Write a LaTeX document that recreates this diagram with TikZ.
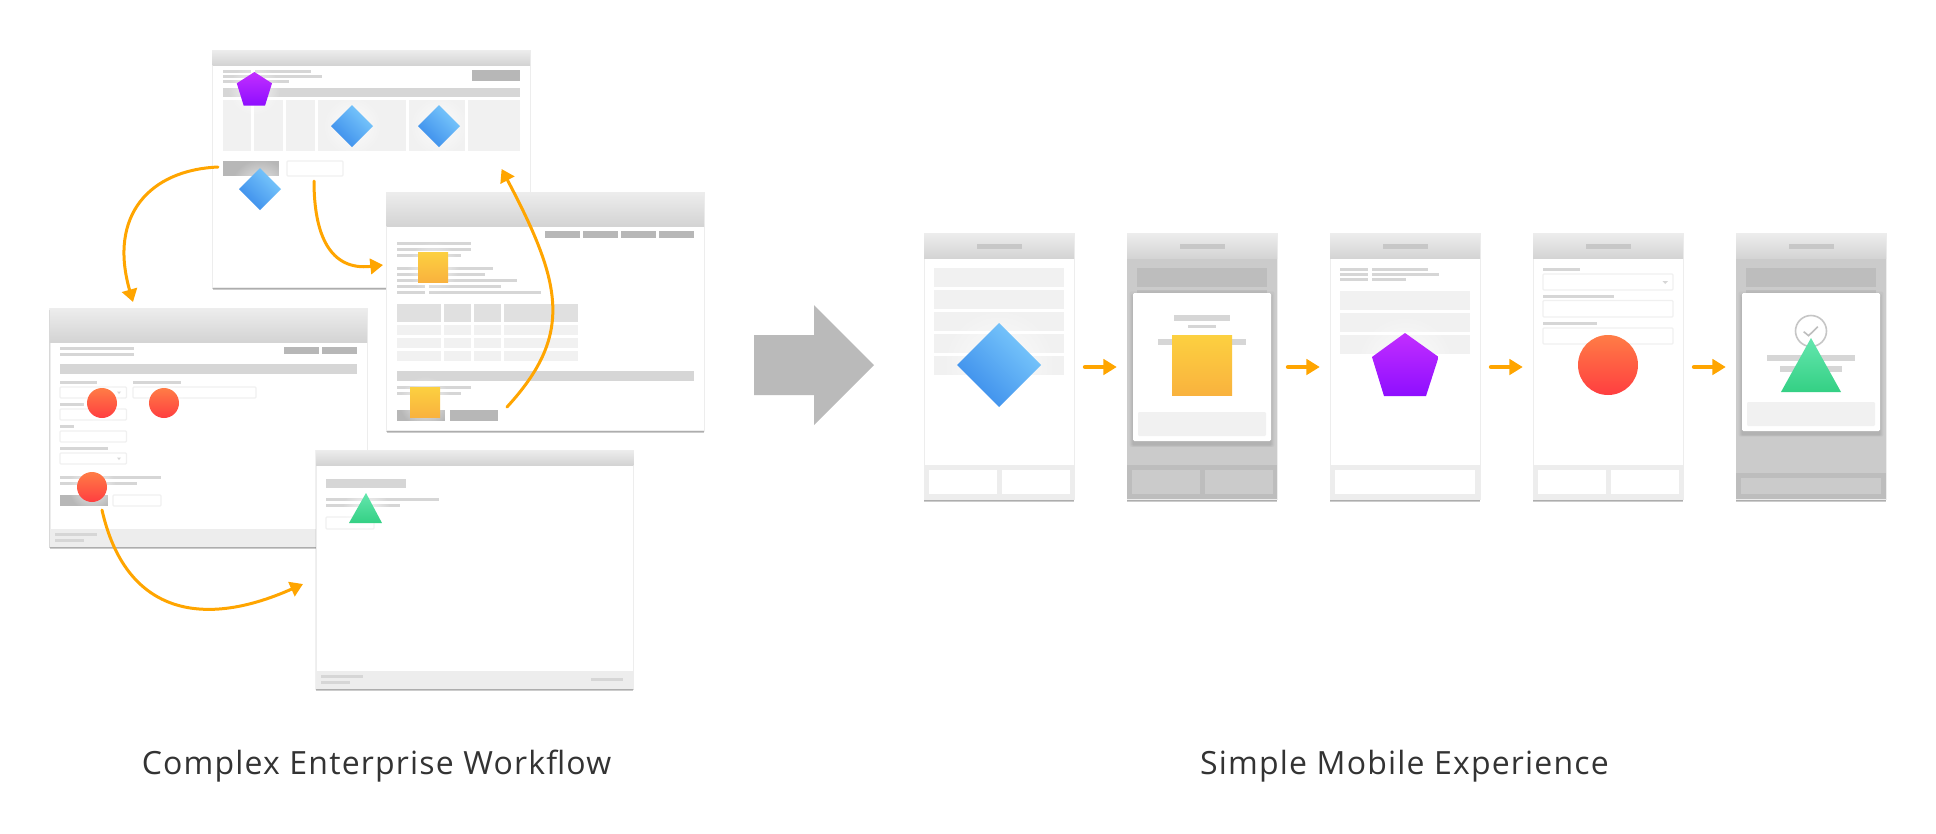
\documentclass[tikz,border=0pt]{standalone}
\usepackage{fontspec}
\setmainfont{Open Sans}
\usetikzlibrary{arrows.meta,shadows,fadings}
\definecolor{flow}{RGB}{255,165,0}
\definecolor{rule}{RGB}{214,214,214}
\definecolor{cell}{RGB}{241,241,241}
\definecolor{btn}{RGB}{183,183,183}
\definecolor{dim}{RGB}{203,203,203}
\definecolor{dimrow}{RGB}{189,189,189}
\tikzfading[name=halofade,inner color=transparent!0,outer color=transparent!100]
\tikzset{every picture/.style={line width=0.75pt}}
\tikzset{
	softshadow/.style={
		drop shadow={shadow xshift=0pt,shadow yshift=-0.6pt,shadow scale=1.006,fill=black,opacity=0.06},
		drop shadow={shadow xshift=0pt,shadow yshift=-1.3pt,shadow scale=1.002,fill=black,opacity=0.1},
		drop shadow={shadow xshift=0pt,shadow yshift=-2pt,fill=black,opacity=0.2}},
	windowbox/.style={rectangle,inner sep=0pt,draw=black!7,line width=0.3pt,fill=white,softshadow},
	dialogbox/.style={rectangle,inner sep=0pt,rounded corners=1pt,fill=white,
		drop shadow={shadow xshift=0pt,shadow yshift=-1.5pt,shadow scale=1.05,fill=black,opacity=0.03},
		drop shadow={shadow xshift=0pt,shadow yshift=-2.2pt,shadow scale=1.03,fill=black,opacity=0.04},
		drop shadow={shadow xshift=0pt,shadow yshift=-2.8pt,shadow scale=1.01,fill=black,opacity=0.05}},
	titlebar/.style={draw=none,top color=black!7,bottom color=black!17},
	line/.style={draw=none,fill=rule},
	tab/.style={draw=none,fill=black!22},
	dark/.style={draw=none,fill=btn},
	pale/.style={draw=none,fill=cell},
	head/.style={draw=none,fill=black!12},
	foot/.style={draw=none,fill=black!7},
	field/.style={draw=black!6,line width=0.9pt,fill=white,rounded corners=0.8pt},
	dimrowbox/.style={draw=none,fill=dimrow},
	dimbox/.style={draw=none,fill=dim},
	gem/.style={draw=none,bottom color={rgb,255:red,58;green,140;blue,235},top color={rgb,255:red,124;green,202;blue,252},shading angle=-45},
	tile/.style={draw=none,bottom color={rgb,255:red,249;green,178;blue,62},top color={rgb,255:red,252;green,208;blue,64}},
	penta/.style={draw=none,bottom color={rgb,255:red,142;green,14;blue,255},top color={rgb,255:red,194;green,46;blue,255}},
	ball/.style={draw=none,bottom color={rgb,255:red,255;green,62;blue,64},top color={rgb,255:red,255;green,124;blue,70}},
	tri/.style={draw=none,bottom color={rgb,255:red,52;green,208;blue,132},top color={rgb,255:red,100;green,230;blue,174}},
	halo/.style={draw=none,fill=white,path fading=halofade,fill opacity=0.8},
	curveflow/.style={draw=flow,line width=2.25pt,line cap=round,-{Triangle[length=9.5pt,width=11.5pt]}},
	stepflow/.style={draw=flow,line width=3pt,line cap=round,transform canvas={yshift=-0.75pt},shorten <=8pt,shorten >=7.5pt,-{Triangle[length=10pt,width=11.5pt]}},
	caption/.style={text=black!80,font=\fontsize{24}{28}\selectfont\addfontfeatures{LetterSpace=3.7}}
}
\begin{document}
\begin{tikzpicture}[x=0.75pt,y=0.75pt,yscale=-1,xscale=1]
	\useasboundingbox (0,0) rectangle (1936,833);

	%Shape: Window top
	\node [windowbox,minimum width=238pt,minimum height=177.75pt] (windowa) at (371.3,168.5) {};
	\draw [titlebar] (212.7,50) rectangle (530,65);
	\draw [line] (223,70) rectangle (251,72.7);
	\draw [line] (255,70) rectangle (311,72.7);
	\draw [line] (223,75) rectangle (322,77.7);
	\draw [line] (223,80) rectangle (289,82.7);
	\draw [dark] (472,70) rectangle (520,81);
	\draw [line] (223,88) rectangle (520,97);
	\draw [pale] (223,100) rectangle (251,151);
	\draw [pale] (254,100) rectangle (283,151);
	\draw [pale] (286,100) rectangle (315,151);
	\draw [pale] (318,100) rectangle (406,151);
	\draw [pale] (409,100) rectangle (465,151);
	\draw [pale] (468,100) rectangle (520,151);
	\draw [dark] (223,161) rectangle (279,176);
	\draw [field] (287,161) rectangle (343,176);

	%Shape: Window left
	\node [windowbox,minimum width=238pt,minimum height=178.5pt] (windowc) at (208.4,427) {};
	\draw [titlebar] (49.8,308) rectangle (367,342);
	\draw [line] (60,347) rectangle (134,350);
	\draw [line] (60,353) rectangle (134,356);
	\draw [dark] (284,347) rectangle (319,354);
	\draw [dark] (322,347) rectangle (357,354);
	\draw [line] (60,364) rectangle (357,374);
	\draw [line] (60,381) rectangle (97,384);
	\draw [line] (133,381) rectangle (181,384);
	\draw [field] (60,387) rectangle (126.5,398);
	\draw [field] (133,387) rectangle (256,398);
	\draw [line] (60,403) rectangle (84,406);
	\draw [field] (60,409) rectangle (126.5,420);
	\draw [line] (60,425) rectangle (74,428);
	\draw [field] (60,431) rectangle (126.5,442);
	\draw [line] (60,447) rectangle (108,450);
	\draw [field] (60,453) rectangle (126.5,464);
	\draw [line] (117,391.5) -- (121,391.5) -- (119,394) -- cycle;
	\draw [line] (117,457.5) -- (121,457.5) -- (119,460) -- cycle;
	\draw [line] (60,476) rectangle (161,479);
	\draw [line] (60,482) rectangle (137,485);
	\draw [dark] (60,495) rectangle (108,506);
	\draw [field] (113,495) rectangle (161,506);
	\draw [foot] (50,529) rectangle (367,546);
	\draw [line] (55,533) rectangle (97,536);
	\draw [line] (55,539) rectangle (84,542);

	%Shape: Window right
	\node [windowbox,minimum width=238pt,minimum height=178.5pt] (windowb) at (545.3,311) {};
	\draw [titlebar] (386.6,192) rectangle (704,226);
	\draw [dark] (545,231) rectangle (580,238);
	\draw [dark] (583,231) rectangle (618,238);
	\draw [dark] (621,231) rectangle (656,238);
	\draw [dark] (659,231) rectangle (694,238);
	\draw [line] (397,242) rectangle (471,245);
	\draw [line] (397,248) rectangle (471,251);
	\draw [line] (397,254) rectangle (461,257);
	\draw [line] (397,267) rectangle (493,270);
	\draw [line] (397,273) rectangle (485,276);
	\draw [line] (397,279) rectangle (517,282);
	\draw [line] (397,285) rectangle (425,288);
	\draw [line] (429,285) rectangle (501,288);
	\draw [line] (397,291) rectangle (425,294);
	\draw [line] (429,291) rectangle (541,294);
	%Table
	\draw [head] (397,304) rectangle (441,322);
	\draw [head] (444,304) rectangle (471,322);
	\draw [head] (474,304) rectangle (501,322);
	\draw [head] (504,304) rectangle (578,322);
	\draw [pale] (397,325) rectangle (441,335);
	\draw [pale] (444,325) rectangle (471,335);
	\draw [pale] (474,325) rectangle (501,335);
	\draw [pale] (504,325) rectangle (578,335);
	\draw [pale] (397,338) rectangle (441,348);
	\draw [pale] (444,338) rectangle (471,348);
	\draw [pale] (474,338) rectangle (501,348);
	\draw [pale] (504,338) rectangle (578,348);
	\draw [pale] (397,351) rectangle (441,361);
	\draw [pale] (444,351) rectangle (471,361);
	\draw [pale] (474,351) rectangle (501,361);
	\draw [pale] (504,351) rectangle (578,361);
	\draw [line] (397,371) rectangle (694,381);
	\draw [line] (397,386) rectangle (471,389);
	\draw [line] (397,392) rectangle (461,395);
	\draw [dark] (397,410) rectangle (445,421);
	\draw [dark] (450,410) rectangle (498,421);

	%Shape: Window bottom
	\node [windowbox,minimum width=238pt,minimum height=178.5pt] (windowd) at (474.7,569) {};
	\draw [titlebar] (316,450) rectangle (633.4,465);
	\draw [line] (326,479) rectangle (406,488);
	\draw [line] (326,498) rectangle (439,501);
	\draw [line] (326,504) rectangle (400,507);
	\draw [field] (326,517) rectangle (374,529);
	\draw [foot] (316.3,671) rectangle (633.1,688);
	\draw [line] (321,675) rectangle (363,678);
	\draw [line] (321,681) rectangle (350,684);
	\draw [line] (591,678) rectangle (623,681);

	%Shape: halos round the marks of the windows
	\draw [halo] (254,90) circle (26);
	\draw [halo] (352,126) circle (30);
	\draw [halo] (439,126) circle (30);
	\draw [halo] (260,189) circle (30);
	\draw [halo] (433,267) circle (26);
	\draw [halo] (425,402) circle (26);
	\draw [halo] (102,403) circle (22);
	\draw [halo] (164,403) circle (22);
	\draw [halo] (92,487) circle (24);
	\draw [halo] (366,510) circle (24);

	%Shape: Marks of the windows
	\draw [penta] (254.4,72) -- (272,83.3) -- (265,105.7) -- (243.7,105.7) -- (236.8,83.3) -- cycle;
	\draw [gem] (352,105) -- (373,126) -- (352,147) -- (331,126) -- cycle;
	\draw [gem] (439,105) -- (460,126) -- (439,147) -- (418,126) -- cycle;
	\draw [gem] (260,168) -- (281,189) -- (260,210) -- (239,189) -- cycle;
	\draw [tile] (418,252) rectangle (448,282);
	\draw [tile] (410,387) rectangle (440,417);
	\draw [ball] (102,403) circle (15);
	\draw [ball] (164,403) circle (15);
	\draw [ball] (92,487) circle (15);
	\draw [tri] (366,493) -- (382,523) -- (349,523) -- cycle;

	%Curve Lines between the windows
	\coordinate (astart) at (218,167);
	\coordinate (cend) at (133,302);
	\coordinate (bstart) at (314,181);
	\coordinate (bend) at (383,265);
	\coordinate (backstart) at (507,407);
	\coordinate (backend) at (501.6,169);
	\coordinate (dstart) at (102,510);
	\coordinate (dend) at (303,584);
	\draw [curveflow] (astart) .. controls (150,170) and (108,215) .. (cend);
	\draw [curveflow] (bstart) .. controls (314,235) and (330,271) .. (bend);
	\draw [curveflow] (backstart) .. controls (573,335) and (563,285) .. (backend);
	\draw [curveflow] (dstart) .. controls (125,612) and (200,630) .. (dend);

	%Shape: Big Arrow
	\draw [draw=none,fill=black!27] (754,335) -- (814,335) -- (814,305) -- (874,365) -- (814,425) -- (814,395) -- (754,395) -- cycle;

	%Shape: Phone 1
	\node [windowbox,minimum width=112.5pt,minimum height=199.7pt] (phoneone) at (999,366) {};
	\draw [titlebar] (924,233) rectangle (1074,258);
	\draw [tab] (977,244) rectangle (1022,249);
	\draw [pale] (934,268) rectangle (1064,287);
	\draw [pale] (934,290) rectangle (1064,309);
	\draw [pale] (934,312) rectangle (1064,331);
	\draw [pale] (934,334) rectangle (1064,353);
	\draw [pale] (934,356) rectangle (1064,375);
	\draw [foot] (924.3,465) rectangle (1073.7,499);
	\draw [draw=none,fill=white] (929,470) rectangle (997,494);
	\draw [draw=none,fill=white] (1002,470) rectangle (1070,494);
	\draw [halo] (999,365) circle (58);
	\draw [gem] (999,323) -- (1041,365) -- (999,407) -- (957,365) -- cycle;

	%Shape: Phone 2
	\node [windowbox,minimum width=112.5pt,minimum height=199.7pt] (phonetwo) at (1202,366) {};
	\draw [dimbox] (1127,258) rectangle (1277,499);
	\draw [titlebar] (1127,233) rectangle (1277,258);
	\draw [tab] (1180,244) rectangle (1225,249);
	\draw [dimrowbox] (1137,268) rectangle (1267,287);
	\draw [dimrowbox] (1137,290) rectangle (1267,300);
	\draw [dimrowbox] (1127,465) rectangle (1277,499);
	\draw [dimbox] (1132,470) rectangle (1200,494);
	\draw [dimbox] (1205,470) rectangle (1273,494);
	\node [dialogbox,minimum width=103.5pt,minimum height=111pt] (dialogtwo) at (1202,367) {};
	\draw [line] (1174,315) rectangle (1230,321);
	\draw [line] (1188,325) rectangle (1216,328);
	\draw [line] (1158,339) rectangle (1246,345);
	\draw [pale,rounded corners=0.8pt] (1138,412) rectangle (1266,436);
	\draw [tile] (1172,335) rectangle (1232,395);

	%Shape: Phone 3
	\node [windowbox,minimum width=112.5pt,minimum height=199.7pt] (phonethree) at (1405,366) {};
	\draw [titlebar] (1330,233) rectangle (1480,258);
	\draw [tab] (1383,244) rectangle (1428,249);
	\draw [line] (1340,268) rectangle (1368,271);
	\draw [line] (1372,268) rectangle (1428,271);
	\draw [line] (1340,273) rectangle (1368,276);
	\draw [line] (1372,273) rectangle (1439,276);
	\draw [line] (1340,278) rectangle (1368,281);
	\draw [line] (1372,278) rectangle (1406,281);
	\draw [pale] (1340,291) rectangle (1470,310);
	\draw [pale] (1340,313) rectangle (1470,332);
	\draw [pale] (1340,335) rectangle (1470,354);
	\draw [foot] (1330.3,465) rectangle (1479.7,499);
	\draw [draw=none,fill=white] (1335,470) rectangle (1475,494);
	\draw [halo] (1405,364) circle (50);
	\draw [penta] (1405,333) -- (1438.6,357) -- (1426,396) -- (1384,396) -- (1372,357) -- cycle;

	%Shape: Phone 4
	\node [windowbox,minimum width=112.5pt,minimum height=199.7pt] (phonefour) at (1608,366) {};
	\draw [titlebar] (1533,233) rectangle (1683,258);
	\draw [tab] (1586,244) rectangle (1631,249);
	\draw [line] (1543,268) rectangle (1580,271);
	\draw [field] (1543,274) rectangle (1673,290);
	\draw [line] (1662.5,281) -- (1668,281) -- (1665.2,284) -- cycle;
	\draw [line] (1543,295) rectangle (1614,298);
	\draw [field] (1543,300.500) rectangle (1673,317);
	\draw [line] (1543,322) rectangle (1597,325);
	\draw [field] (1543,328) rectangle (1673,344);
	\draw [foot] (1533.3,465) rectangle (1682.7,499);
	\draw [draw=none,fill=white] (1538,470) rectangle (1606,494);
	\draw [draw=none,fill=white] (1611,470) rectangle (1679,494);
	\draw [ball] (1608,365) circle (30);

	%Shape: Phone 5
	\node [windowbox,minimum width=112.5pt,minimum height=199.7pt] (phonefive) at (1811,366) {};
	\draw [dimbox] (1736,258) rectangle (1886,499);
	\draw [titlebar] (1736,233) rectangle (1886,258);
	\draw [tab] (1789,244) rectangle (1834,249);
	\draw [dimrowbox] (1746,268) rectangle (1876,287);
	\draw [dimrowbox] (1746,290) rectangle (1876,300);
	\draw [dimrowbox] (1736,473) rectangle (1886,499);
	\draw [dimbox] (1741,478) rectangle (1881,494);
	\node [dialogbox,minimum width=103.5pt,minimum height=103.5pt] (dialogfive) at (1811,362) {};
	\draw [draw={rgb,255:red,198;green,198;blue,198},line width=1.2pt] (1811,331) circle (15.500);
	\draw [draw={rgb,255:red,190;green,190;blue,190},line width=1.2pt] (1803.7,331.7) -- (1808.6,335.7) -- (1817.800,326.7);
	\draw [line] (1767,355) rectangle (1855,361);
	\draw [line] (1780,366) rectangle (1842,372);
	\draw [pale,rounded corners=0.8pt] (1747,402) rectangle (1875,426);
	\draw [tri] (1811,338) -- (1841,392) -- (1781,392) -- cycle;

	%Straight Lines between the phones
	\draw [stepflow] (phoneone.east) -- (phonetwo.west);
	\draw [stepflow] (phonetwo.east) -- (phonethree.west);
	\draw [stepflow] (phonethree.east) -- (phonefour.west);
	\draw [stepflow] (phonefour.east) -- (phonefive.west);

	% Text Node
	\draw (376.500,766) node [caption] (leftlabel) {Complex Enterprise Workflow};
	% Text Node
	\draw (1404.500,766) node [caption] (rightlabel) {Simple Mobile Experience};

\end{tikzpicture}
\end{document}
